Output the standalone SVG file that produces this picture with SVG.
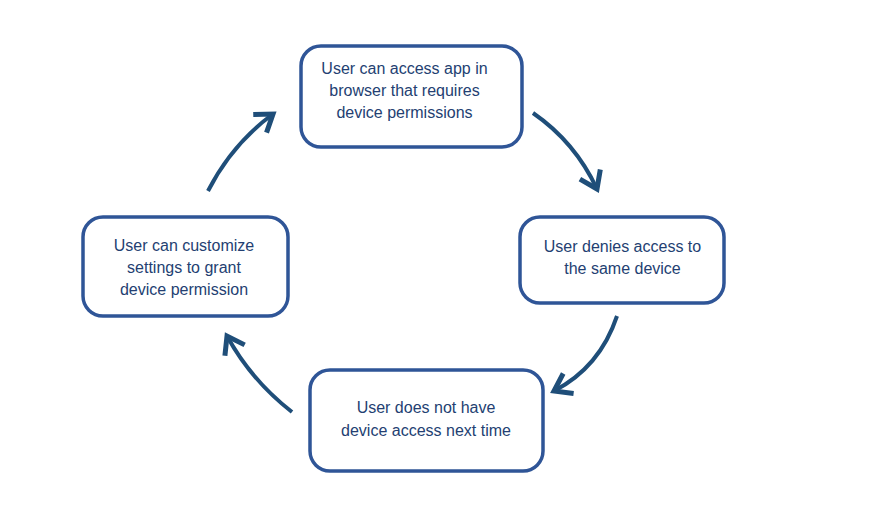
<svg xmlns="http://www.w3.org/2000/svg" width="870" height="525" viewBox="0 0 870 525">
<style>
.box{fill:#ffffff;stroke:#2F5597;stroke-width:3.5}
.t{font-family:"Liberation Sans",Arial,sans-serif;font-size:16px;fill:#243F72;text-anchor:middle}
.arr{fill:none;stroke:#1F4E79;stroke-width:4;stroke-linecap:butt}
</style>
<defs>
<marker id="head" markerUnits="userSpaceOnUse" markerWidth="30" markerHeight="30" viewBox="-16 -12 20 24" refX="0" refY="0" orient="auto">
<path d="M -13 -9 L 0 0 L -13 9" fill="none" stroke="#1F4E79" stroke-width="4" stroke-linejoin="miter"/>
</marker>
</defs>
<rect width="870" height="525" fill="#ffffff"/>
<g id="connectors">
<path class="arr" d="M 533 113 Q 575 142 597 189" marker-end="url(#head)"/>
<path class="arr" d="M 617 316 Q 600 367 554 391" marker-end="url(#head)"/>
<path class="arr" d="M 292 412 Q 251 380 227 336" marker-end="url(#head)"/>
<path class="arr" d="M 208 191 Q 232 144 273 114" marker-end="url(#head)"/>
</g>
<g id="node-top">
<rect class="box" x="301" y="46" width="221" height="101" rx="20"/>
<text class="t" x="404.5" y="74">User can access app in</text>
<text class="t" x="404.5" y="96">browser that requires</text>
<text class="t" x="404.5" y="118">device permissions</text>
</g>
<g id="node-right">
<rect class="box" x="520" y="217" width="204" height="86" rx="20"/>
<text class="t" x="622.5" y="252">User denies access to</text>
<text class="t" x="622.5" y="274">the same device</text>
</g>
<g id="node-bottom">
<rect class="box" x="310" y="370" width="233" height="101" rx="20"/>
<text class="t" x="426" y="413">User does not have</text>
<text class="t" x="426" y="436">device access next time</text>
</g>
<g id="node-left">
<rect class="box" x="83" y="217" width="205" height="99" rx="20"/>
<text class="t" x="184" y="251">User can customize</text>
<text class="t" x="184" y="273">settings to grant</text>
<text class="t" x="184" y="295">device permission</text>
</g>
</svg>
